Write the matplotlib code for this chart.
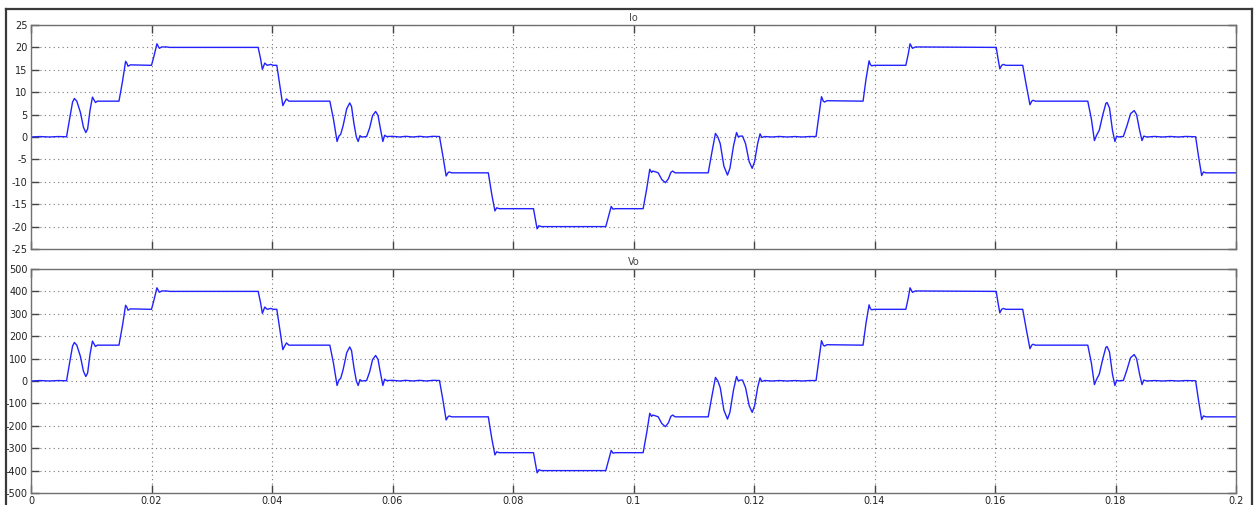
import matplotlib
matplotlib.use("Agg")
import matplotlib.pyplot as plt
from matplotlib.lines import Line2D

# Sample times (s) of the staircase inverter output
t = [
    0.0, 0.0015, 0.003, 0.0045, 0.0059,
    0.0064, 0.0069, 0.0072, 0.0076, 0.0082, 0.0087, 0.0091, 0.0094, 0.0098, 0.0102, 0.0105, 0.0107, 0.0110, 0.0146,
    0.0152, 0.0157, 0.0159, 0.0161, 0.0165, 0.0200,
    0.0204, 0.0209, 0.0213, 0.0217, 0.0225, 0.0230, 0.0377,
    0.0381, 0.0384, 0.0388, 0.0392, 0.0398, 0.0402, 0.0408,
    0.0413, 0.0418, 0.0421, 0.0424, 0.0428, 0.0496,
    0.0502, 0.0508, 0.0511, 0.0514, 0.0518, 0.0524, 0.0529, 0.0532, 0.0536, 0.0540, 0.0543, 0.0546, 0.0549, 0.0557,
    0.0562, 0.0567, 0.0572, 0.0576, 0.0580, 0.0584, 0.0587, 0.0590,
    0.0600, 0.0612, 0.0622, 0.0634, 0.0645, 0.0656, 0.0667, 0.0678,
    0.0684, 0.0689, 0.0692, 0.0694, 0.0698, 0.0759,
    0.0765, 0.0770, 0.0773, 0.0777, 0.0834,
    0.0838, 0.0840, 0.0843, 0.0847, 0.0954,
    0.0959, 0.0963, 0.0966, 0.0970, 0.1016,
    0.1022, 0.1027, 0.1030, 0.1032, 0.1037, 0.1041, 0.1047, 0.1053, 0.1058, 0.1062, 0.1065, 0.1069, 0.1124,
    0.1130, 0.1136, 0.1140, 0.1144, 0.1150, 0.1156, 0.1160, 0.1166, 0.1171, 0.1174, 0.1177, 0.1181, 0.1186,
    0.1192, 0.1197, 0.1201, 0.1206, 0.1210, 0.1213, 0.1218,
    0.1230, 0.1242, 0.1255, 0.1268, 0.1280, 0.1292, 0.1303,
    0.1308, 0.1312, 0.1315, 0.1317, 0.1321, 0.1381,
    0.1386, 0.1391, 0.1393, 0.1395, 0.1400, 0.1452,
    0.1456, 0.1459, 0.1461, 0.1463, 0.1468, 0.1602,
    0.1605, 0.1608, 0.1611, 0.1614, 0.1618, 0.1646,
    0.1652, 0.1658, 0.1661, 0.1663, 0.1667, 0.1754,
    0.1760, 0.1765, 0.1769, 0.1773, 0.1779, 0.1784, 0.1786, 0.1790, 0.1795, 0.1799, 0.1802, 0.1805, 0.1810, 0.1813,
    0.1819, 0.1825, 0.1831, 0.1835, 0.1840, 0.1844, 0.1847, 0.1852,
    0.1865, 0.1878, 0.1891, 0.1904, 0.1917, 0.1933,
    0.1938, 0.1943, 0.1946, 0.1950, 0.2000,
]

# Load current Io (A)
io = [
    0.0, 0.1, 0.0, 0.1, 0.05,
    4.0, 7.8, 8.6, 8.0, 5.5, 2.2, 1.0, 1.8, 6.0, 8.9, 8.2, 7.7, 8.0, 8.0,
    12.5, 16.9, 16.5, 15.8, 16.1, 16.0,
    18.0, 20.8, 19.8, 20.1, 20.1, 20.0, 20.0,
    17.5, 15.1, 16.5, 16.0, 16.2, 16.0, 16.0,
    11.5, 7.0, 7.8, 8.5, 8.0, 8.0,
    4.0, -1.0, 0.2, 0.6, 2.5, 6.3, 7.6, 6.8, 3.0, 0.0, -1.0, 0.3, 0.0, 0.1,
    2.0, 4.8, 5.7, 4.8, 1.8, -1.0, 0.4, 0.1,
    0.15, 0.0, 0.15, 0.0, 0.15, 0.0, 0.15, 0.1,
    -4.5, -8.7, -8.0, -7.8, -8.0, -8.0,
    -13.0, -16.5, -15.8, -16.0, -16.0,
    -19.0, -20.5, -19.8, -20.0, -20.0,
    -17.5, -15.5, -16.1, -16.0, -16.0,
    -11.5, -7.2, -7.9, -7.6, -7.8, -8.0, -9.5, -10.2, -9.3, -7.9, -7.6, -8.0, -8.0,
    -3.5, 0.8, 0.0, -1.5, -6.5, -8.5, -7.0, -2.0, 1.0, 0.0, 0.2, 0.2, -1.5,
    -5.5, -7.0, -5.5, -1.5, 0.7, -0.1, 0.1,
    0.0, 0.12, 0.0, 0.1, 0.0, 0.1, 0.1,
    5.0, 9.0, 8.0, 7.8, 8.1, 8.0,
    13.0, 17.0, 16.2, 15.9, 16.0, 16.0,
    18.5, 20.8, 20.3, 19.8, 20.1, 20.0,
    17.5, 15.2, 16.0, 16.2, 16.0, 16.0,
    11.5, 7.2, 8.0, 8.2, 8.0, 8.0,
    4.0, -0.8, 0.5, 1.5, 5.0, 7.5, 7.7, 6.5, 1.5, -1.0, 0.2, 0.0, 0.1, 0.1,
    2.5, 5.2, 5.9, 5.0, 1.5, -0.8, 0.2, 0.0,
    0.12, 0.0, 0.12, 0.0, 0.12, 0.05,
    -4.5, -8.6, -7.8, -8.0, -8.0,
]

# Load voltage Vo (V)
vo = [
    0, 2, 0, 2, 1,
    80, 156, 172, 160, 110, 44, 20, 36, 120, 178, 164, 154, 160, 160,
    250, 338, 330, 316, 322, 320,
    360, 416, 396, 402, 402, 400, 400,
    350, 302, 330, 320, 324, 320, 320,
    230, 140, 156, 170, 160, 160,
    80, -20, 4, 12, 50, 126, 152, 136, 60, 0, -20, 6, 0, 2,
    40, 96, 114, 96, 36, -20, 8, 2,
    3, 0, 3, 0, 3, 0, 3, 2,
    -90, -174, -160, -156, -160, -160,
    -260, -330, -316, -320, -320,
    -380, -410, -396, -400, -400,
    -350, -310, -322, -320, -320,
    -230, -144, -158, -152, -156, -160, -190, -204, -186, -158, -152, -160, -160,
    -70, 16, 0, -30, -130, -170, -140, -40, 20, 0, 4, 4, -30,
    -110, -140, -110, -30, 14, -2, 2,
    0, 2, 0, 2, 0, 2, 2,
    100, 180, 160, 156, 162, 160,
    260, 340, 324, 318, 320, 320,
    370, 416, 406, 396, 402, 400,
    350, 304, 320, 324, 320, 320,
    230, 144, 160, 164, 160, 160,
    80, -16, 10, 30, 100, 150, 154, 130, 30, -20, 4, 0, 2, 2,
    50, 104, 118, 100, 30, -16, 4, 0,
    2, 0, 2, 0, 2, 1,
    -90, -172, -156, -160, -160,
]

io_ticks = [-25, -20, -15, -10, -5, 0, 5, 10, 15, 20, 25]
vo_ticks = [-500, -400, -300, -200, -100, 0, 100, 200, 300, 400, 500]
t_ticks = [0, 0.02, 0.04, 0.06, 0.08, 0.1, 0.12, 0.14, 0.16, 0.18, 0.2]
t_labels = ["0", "0.02", "0.04", "0.06", "0.08", "0.1", "0.12", "0.14", "0.16", "0.18", "0.2"]

W, H = 1254, 505
fig = plt.figure(figsize=(W / 100, H / 100), dpi=100)
fig.patch.set_facecolor("white")

left, right = 31 / W, 1236 / W
ax_io = fig.add_axes([left, 1 - 249 / H, right - left, 224 / H])
ax_vo = fig.add_axes([left, 1 - 493 / H, right - left, 224 / H])

line_col = "#2222ff"
for ax, y, ticks, lim, title in [
    (ax_io, io, io_ticks, (-25, 25), "Io"),
    (ax_vo, vo, vo_ticks, (-500, 500), "Vo"),
]:
    ax.plot(t, y, color=line_col, lw=1.0)
    ax.set_xlim(0, 0.2)
    ax.set_ylim(*lim)
    ax.set_yticks(ticks)
    ax.set_yticklabels([str(v) for v in ticks])
    ax.set_xticks(t_ticks)
    ax.grid(True, color="#7a7a7a", linestyle=(0, (1, 3)), linewidth=0.8)
    ax.tick_params(direction="in", length=6, width=1, color="#444444",
                   top=True, right=True, labelsize=7, labelcolor="#222222", pad=2.5)
    for s in ax.spines.values():
        s.set_color("#707070")
        s.set_linewidth(1.0)
    ax.set_title(title, fontsize=7, color="#444444", pad=3)

ax_io.set_xticklabels([])
ax_vo.set_xticklabels(t_labels)

# window border around the scope display
border = dict(color="#3a3a3a", lw=1.6, transform=fig.transFigure)
fig.add_artist(Line2D([6 / W, 6 / W], [0, 1 - 9 / H], **border))
fig.add_artist(Line2D([6 / W, 1252 / W], [1 - 9 / H, 1 - 9 / H], **border))
fig.add_artist(Line2D([1251.7 / W, 1251.7 / W], [0, 1 - 9 / H], **border))

fig.savefig("out.png", dpi=100, facecolor="white")
